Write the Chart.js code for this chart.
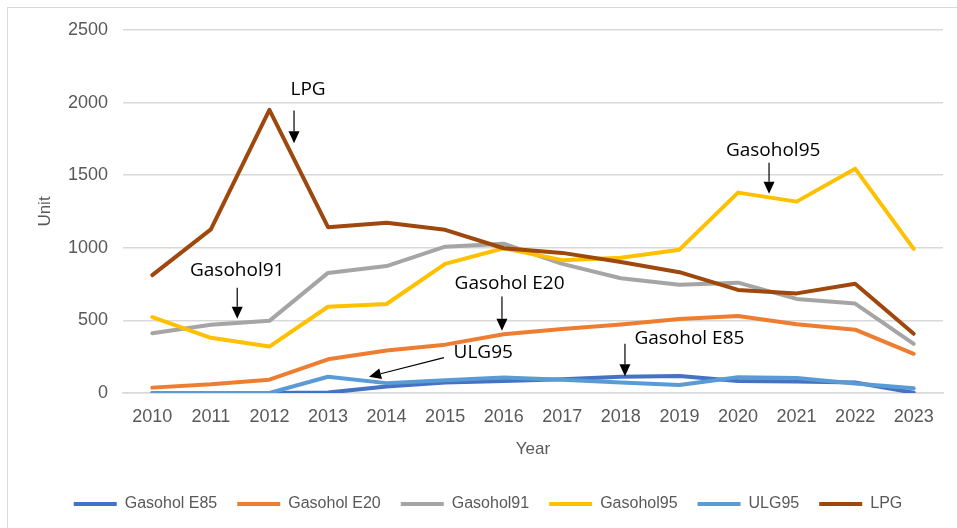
<!DOCTYPE html>
<html>
<head>
<meta charset="utf-8">
<script src="https://cdn.jsdelivr.net/npm/chart.js@4"></script>
<style>
    html, body { margin: 0; padding: 0; background: #fff; }
    body { width: 957px; height: 528px; position: relative; overflow: hidden; }
    .frame { position: absolute; left: 7px; top: 7px; width: 1000px; height: 600px; border: 1px solid #d9d9d9; }
    #fuelChart { position: absolute; left: 0; top: 0; }
</style>
</head>
<body>
<div class="frame"></div>
<canvas id="fuelChart" width="957" height="528"></canvas>
<script>
// Data
const years = ['2010', '2011', '2012', '2013', '2014', '2015', '2016', '2017', '2018', '2019', '2020', '2021', '2022', '2023'];

const gasoholE85 = [0, 0, 0, 3, 45, 72, 82, 95, 112, 117, 83, 80, 72, 2];
const gasoholE20 = [37, 60, 92, 232, 292, 333, 405, 440, 472, 510, 531, 474, 436, 270];
const gasohol91 = [412, 470, 497, 827, 874, 1008, 1028, 889, 790, 745, 760, 648, 616, 338];
const gasohol95 = [522, 380, 320, 594, 613, 889, 997, 915, 931, 987, 1380, 1318, 1545, 993];
const ulg95 = [0, 0, 0, 112, 68, 88, 106, 92, 72, 55, 108, 104, 66, 32];
const lpg = [812, 1127, 1950, 1142, 1172, 1124, 997, 965, 902, 832, 710, 686, 752, 408];

const yTicks = [0, 500, 1000, 1500, 2000, 2500];

// Callouts: text at (category index, value), arrow from -> to in the same units
const callouts = [
    { text: 'LPG', at: [2.66, 2090], from: [2.42, 1945], to: [2.42, 1720] },
    { text: 'Gasohol91', at: [1.45, 845], from: [1.45, 725], to: [1.45, 512] },
    { text: 'Gasohol95', at: [10.6, 1672], from: [10.53, 1585], to: [10.53, 1372] },
    { text: 'Gasohol E20', at: [6.1, 755], from: [5.97, 665], to: [5.97, 428] },
    { text: 'ULG95', at: [5.65, 275], from: [4.98, 244], to: [3.7, 112] },
    { text: 'Gasohol E85', at: [9.17, 375], from: [8.07, 340], to: [8.07, 116] },
];

const colors = {
    e85: '#4472C4',
    e20: '#ED7D31',
    g91: '#A5A5A5',
    g95: '#FFC000',
    ulg: '#5B9BD5',
    lpg: '#9E480E',
    grid: '#d9d9d9',
    tick: '#595959',
};

const tickFont = "'Liberation Sans', Arial, sans-serif";
const noteFont = "'Open Sans', 'Liberation Sans', sans-serif";

function series(label, data, color, order) {
    return {
        label: label,
        data: data,
        borderColor: color,
        backgroundColor: color,
        borderWidth: 4,
        pointRadius: 0,
        tension: 0,
        borderJoinStyle: 'round',
        borderCapStyle: 'round',
        order: order, // later series drawn on top, like Excel
    };
}

// Draw the text labels with arrows
const calloutPlugin = {
    id: 'callouts',
    afterDatasetsDraw(chart) {
        const ctx = chart.ctx;
        const xs = chart.scales.x;
        const ys = chart.scales.y;
        const px = (p) => [xs.getPixelForValue(p[0]), ys.getPixelForValue(p[1])];

        ctx.save();
        ctx.fillStyle = '#000';
        ctx.strokeStyle = '#000';
        ctx.font = '19px ' + noteFont;
        ctx.textAlign = 'center';
        ctx.textBaseline = 'middle';

        callouts.forEach(c => {
            const [tx, ty] = px(c.at);
            ctx.fillText(c.text, tx, ty);

            const [x0, y0] = px(c.from);
            const [x1, y1] = px(c.to);
            const ang = Math.atan2(y1 - y0, x1 - x0);
            const headLen = 12;
            const headHalf = 5.5;
            const bx = x1 - headLen * Math.cos(ang);
            const by = y1 - headLen * Math.sin(ang);

            ctx.lineWidth = 1.2;
            ctx.beginPath();
            ctx.moveTo(x0, y0);
            ctx.lineTo(bx, by);
            ctx.stroke();

            ctx.beginPath();
            ctx.moveTo(x1, y1);
            ctx.lineTo(bx + headHalf * Math.sin(ang), by - headHalf * Math.cos(ang));
            ctx.lineTo(bx - headHalf * Math.sin(ang), by + headHalf * Math.cos(ang));
            ctx.closePath();
            ctx.fill();
        });
        ctx.restore();
    }
};

const ctx = document.getElementById('fuelChart').getContext('2d');

new Chart(ctx, {
    type: 'line',
    data: {
        labels: years,
        datasets: [
            series('Gasohol E85', gasoholE85, colors.e85, 6),
            series('Gasohol E20', gasoholE20, colors.e20, 5),
            series('Gasohol91', gasohol91, colors.g91, 4),
            series('Gasohol95', gasohol95, colors.g95, 3),
            series('ULG95', ulg95, colors.ulg, 2),
            series('LPG', lpg, colors.lpg, 1),
        ]
    },
    options: {
        responsive: false,
        animation: false,
        layout: {
            padding: { left: 33, right: 14, top: 30, bottom: 6 }
        },
        plugins: {
            legend: {
                position: 'bottom',
                labels: {
                    color: colors.tick,
                    font: { family: tickFont, size: 16 },
                    boxWidth: 43,
                    boxHeight: 4,
                    padding: 20,
                    sort: (a, b) => a.datasetIndex - b.datasetIndex,
                    generateLabels: (chart) => {
                        const items = Chart.defaults.plugins.legend.labels.generateLabels(chart);
                        return items.map(it => {
                            it.lineWidth = 0;
                            it.fillStyle = it.strokeStyle;
                            return it;
                        });
                    }
                }
            },
            tooltip: { enabled: false }
        },
        scales: {
            x: {
                offset: true,
                afterFit: (scale) => { scale.height = 83; },
                grid: { display: false, drawTicks: false },
                border: { display: true, color: colors.grid, width: 1.5 },
                ticks: {
                    color: colors.tick,
                    font: { family: tickFont, size: 18 },
                    padding: 13,
                    maxRotation: 0,
                    autoSkip: false,
                },
                title: {
                    display: true,
                    text: 'Year',
                    color: colors.tick,
                    font: { family: tickFont, size: 17 },
                    padding: { top: 0, bottom: 16 }
                }
            },
            y: {
                min: 0,
                max: 2500,
                afterFit: (scale) => { scale.width = 90; },
                afterBuildTicks: (scale) => {
                    scale.ticks = yTicks.map(v => ({ value: v }));
                },
                grid: { color: colors.grid, lineWidth: 1.5, drawTicks: false },
                border: { display: false },
                ticks: {
                    color: colors.tick,
                    font: { family: tickFont, size: 18 },
                    padding: 15,
                    callback: (value) => String(value),
                },
                title: {
                    display: true,
                    text: 'Unit',
                    color: colors.tick,
                    font: { family: tickFont, size: 17 },
                    padding: { top: 2, bottom: 0 }
                }
            }
        }
    },
    plugins: [calloutPlugin]
});
</script>
</body>
</html>
